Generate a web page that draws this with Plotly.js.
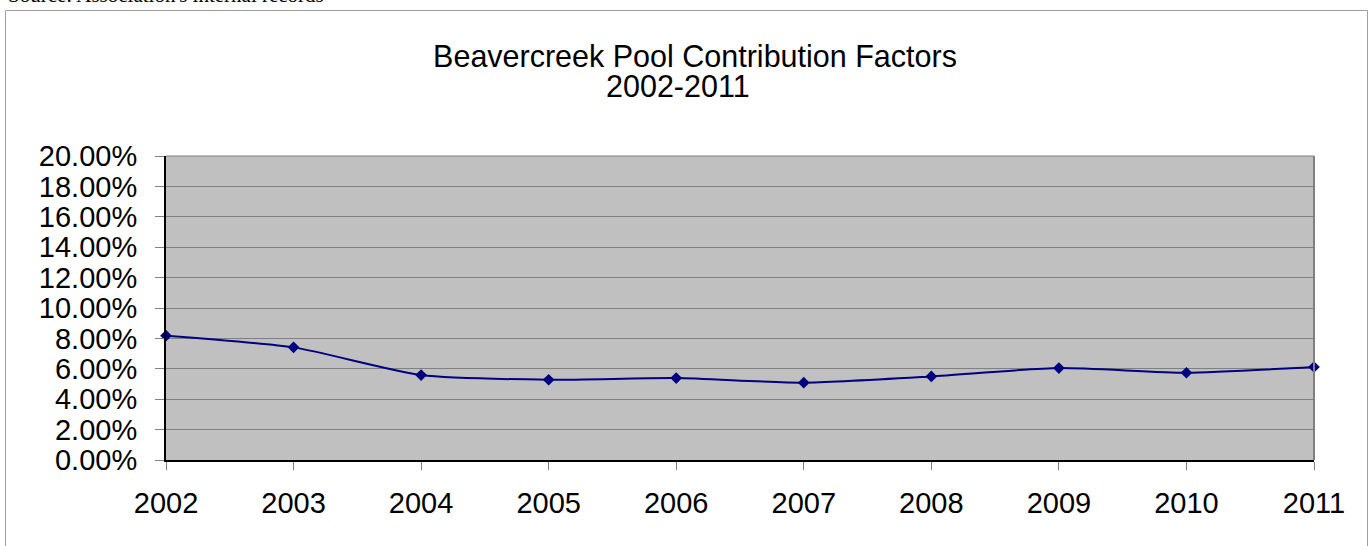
<!DOCTYPE html>
<html>
<head>
<meta charset="utf-8">
<script src="https://cdn.plot.ly/plotly-3.0.1.min.js"></script>
<style>
html,body{margin:0;padding:0;background:#fff;}
#chart{width:1371px;height:546px;}
</style>
</head>
<body>
<div id="chart"></div>
<script>
const years = [2002, 2003, 2004, 2005, 2006, 2007, 2008, 2009, 2010, 2011];
const factors = [0.0818, 0.0741, 0.0559, 0.0528, 0.0539, 0.0509, 0.0550, 0.0605, 0.0574, 0.0612];
const yTicks = [0, 0.02, 0.04, 0.06, 0.08, 0.10, 0.12, 0.14, 0.16, 0.18, 0.20];
const titleLine1 = "Beavercreek Pool Contribution Factors";
const titleLine2 = "2002-2011";
const sourceText = "Source: Association's internal records";

const W = 1371, H = 546;
const L = 166, R = 1314, T = 156, B = 460;
const pw = R - L, ph = B - T;
const px = v => (v - L) / pw;
const py = v => (B - v) / ph;

const trace = {
  x: years,
  y: factors,
  type: 'scatter',
  mode: 'lines+markers',
  line: {color: '#000080', width: 2, shape: 'spline', smoothing: 0.6},
  marker: {symbol: 'diamond', size: 9, color: '#000080'},
  cliponaxis: false,
  hoverinfo: 'x+y'
};

const titleFont = {family: 'Arial, "Liberation Sans", sans-serif', size: 30.5, color: '#000'};

const layout = {
  width: W, height: H,
  margin: {l: L, r: W - R, t: T, b: H - B, pad: 0},
  paper_bgcolor: '#ffffff',
  plot_bgcolor: '#c0c0c0',
  showlegend: false,
  font: {family: 'Arial, "Liberation Sans", sans-serif', color: '#000000', size: 29},
  title: {
    text: titleLine1,
    font: titleFont,
    x: 695 / W, xanchor: 'center', xref: 'container',
    y: 1 - 56 / H, yanchor: 'middle', yref: 'container'
  },
  xaxis: {
    range: [years[0], years[years.length - 1]],
    tickmode: 'array', tickvals: years, ticktext: years.map(String),
    ticks: 'outside', ticklen: 8, tickcolor: '#808080', tickwidth: 1,
    showgrid: false, zeroline: false,
    showline: true, linecolor: '#000000', linewidth: 2,
    tickfont: {size: 29}, ticklabelstandoff: 8,
    fixedrange: true
  },
  yaxis: {
    range: [0, 0.2],
    tickmode: 'array', tickvals: yTicks,
    ticktext: yTicks.map(v => (v * 100).toFixed(2) + '%'),
    ticks: 'outside', ticklen: 9, tickcolor: '#808080', tickwidth: 1,
    showgrid: true, gridcolor: '#808080', gridwidth: 1,
    zeroline: false,
    showline: true, linecolor: '#000000', linewidth: 2,
    tickfont: {size: 29}, ticklabelstandoff: 12,
    fixedrange: true
  },
  shapes: [
    {type: 'line', xref: 'paper', yref: 'paper', x0: 1, x1: 1, y0: 0, y1: 1,
     line: {color: '#808080', width: 2}},
    {type: 'line', xref: 'paper', yref: 'paper', x0: 0, x1: 1, y0: 1, y1: 1,
     line: {color: '#808080', width: 1}},
    {type: 'rect', xref: 'paper', yref: 'paper', layer: 'below',
     x0: px(5.5), x1: px(1367.5), y0: py(560), y1: py(10.5),
     line: {color: '#a0a0a0', width: 1}, fillcolor: 'rgba(0,0,0,0)'}
  ],
  annotations: [
    {text: titleLine2, xref: 'paper', yref: 'paper', x: px(678), y: py(86),
     xanchor: 'center', yanchor: 'middle', showarrow: false, font: titleFont},
    {text: sourceText, xref: 'paper', yref: 'paper', x: px(6), y: py(9),
     xanchor: 'left', yanchor: 'bottom', showarrow: false,
     font: {family: '"Liberation Serif", "Times New Roman", serif', size: 21, color: '#000'}}
  ]
};

Plotly.newPlot('chart', [trace], layout, {displayModeBar: false, staticPlot: true});
</script>
</body>
</html>
